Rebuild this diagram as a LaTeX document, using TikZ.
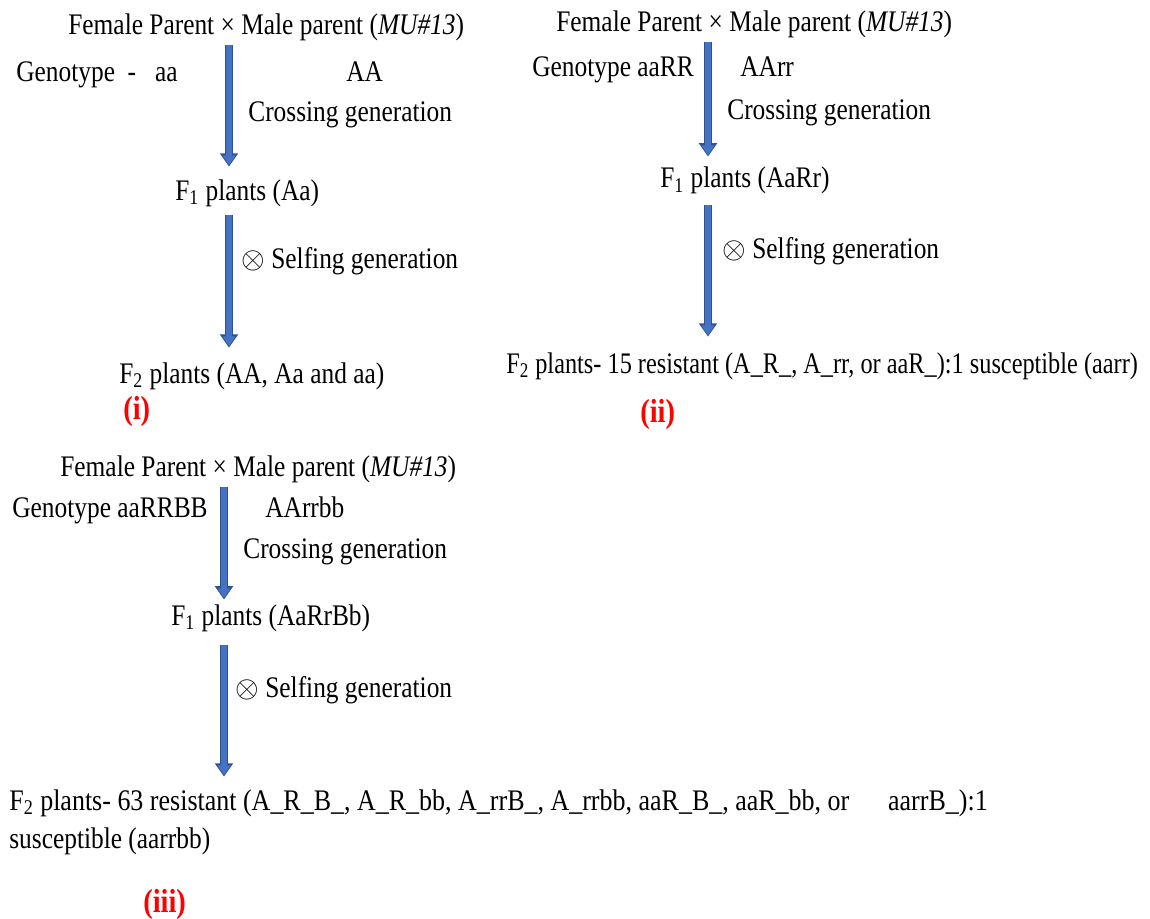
\documentclass[tikz,border=0pt]{standalone}
\usepackage{fontspec}
\setmainfont[FakeStretch=0.85]{Liberation Serif}
\newfontfamily\narrowserif[FakeStretch=0.814]{Liberation Serif}
\newfontfamily\wideserif[FakeStretch=0.87]{Liberation Serif}
\usepackage{xcolor}
\usetikzlibrary{arrows.meta,calc}
\definecolor{arrowblue}{HTML}{4472C4}
\definecolor{arrowedge}{HTML}{2F528F}

\begin{document}
\begin{tikzpicture}[
      x=0.02cm, y=-0.02cm,
      lbl/.style={anchor=base west, inner sep=0pt, text height=12pt, text depth=4.3pt,
                  font=\fontsize{17}{20}\selectfont},
      tag/.style={lbl, text=red, font=\fontsize{19}{22}\selectfont\bfseries},
      bluearrow/.style={draw=arrowedge, line width=4.6pt, -{Triangle[length=7.6pt, width=10pt]},
                        postaction={draw=arrowblue, line width=2.9pt,
                                    -{Triangle[length=5.6pt, width=7pt, sep=0.8pt]}}},
    ]
    \useasboundingbox (0,0) rectangle (1150,919);

    % (i) one gene
    \node[lbl] (cross1) at (68, 35)  {Female Parent × Male parent (\textit{MU\#13})};
    \node[lbl] (geno1)  at (16, 82)  {Genotype\ \ -\ \ \ aa};
    \node[lbl] (male1)  at (346, 82) {AA};
    \node[lbl] (cgen1)  at (248, 122) {Crossing generation};
    \node[lbl] (f1a)    at (175, 200) {F\textsubscript{1} plants (Aa)};
    \node[lbl] (sgen1)  at (241, 268) {$\otimes$ Selfing generation};
    \node[lbl] (f2a)    at (119, 383) {F\textsubscript{2} plants (AA, Aa and aa)};
    \node[tag] (lab1)   at (123, 419) {(i)};

    % (ii) two genes
    \node[lbl] (cross2) at (556, 32)  {Female Parent × Male parent (\textit{MU\#13})};
    \node[lbl] (geno2)  at (532, 77)  {Genotype aaRR};
    \node[lbl] (male2)  at (740, 77)  {AArr};
    \node[lbl] (cgen2)  at (727, 120) {Crossing generation};
    \node[lbl] (f1b)    at (660, 188) {F\textsubscript{1} plants (AaRr)};
    \node[lbl] (sgen2)  at (722, 258) {$\otimes$ Selfing generation};
    \node[lbl, font=\fontsize{17}{20}\selectfont\narrowserif] (f2b) at (506, 373)
      {F\textsubscript{2} plants- 15 resistant (A\_R\_, A\_rr, or aaR\_):1 susceptible (aarr)};
    \node[tag] (lab2)   at (640, 422) {(ii)};

    % (iii) three genes
    \node[lbl] (cross3) at (60, 476)  {Female Parent × Male parent (\textit{MU\#13})};
    \node[lbl] (geno3)  at (12, 517)  {Genotype aaRRBB};
    \node[lbl] (male3)  at (265, 517) {AArrbb};
    \node[lbl] (cgen3)  at (243, 558) {Crossing generation};
    \node[lbl] (f1c)    at (171, 625) {F\textsubscript{1} plants (AaRrBb)};
    \node[lbl] (sgen3)  at (235, 697) {$\otimes$ Selfing generation};
    \node[lbl, font=\fontsize{17}{20}\selectfont\wideserif] (f2c) at (9, 810)
      {F\textsubscript{2} plants- 63 resistant (A\_R\_B\_, A\_R\_bb, A\_rrB\_, A\_rrbb, aaR\_B\_, aaR\_bb, or\hspace{1.3em}aarrB\_):1};
    \node[lbl] (susc)   at (9, 848)   {susceptible (aarrbb)};
    \node[tag] (lab3)   at (143, 912) {(iii)};

    \coordinate (ax1) at (229, 0);
    \coordinate (ax2) at (708, 0);
    \coordinate (ax3) at (224, 0);

    \draw[bluearrow, shorten <=1.4pt, shorten >=6.8pt] (cross1.south -| ax1) -- (f1a.north -| ax1);
    \draw[bluearrow, shorten <=4.3pt, shorten >=7.9pt] (f1a.south -| ax1) -- (f2a.north -| ax1);
    \draw[bluearrow, shorten <=1.4pt, shorten >=5.7pt] (cross2.south -| ax2) -- (f1b.north -| ax2);
    \draw[bluearrow, shorten <=5.4pt, shorten >=8.5pt] (f1b.south -| ax2) -- (f2b.north -| ax2);
    \draw[bluearrow, shorten <=2pt, shorten >=2.3pt] (cross3.south -| ax3) -- (f1c.north -| ax3);
    \draw[bluearrow, shorten <=7.1pt, shorten >=6.8pt] (f1c.south -| ax3) -- (f2c.north -| ax3);
  \end{tikzpicture}
\end{document}
